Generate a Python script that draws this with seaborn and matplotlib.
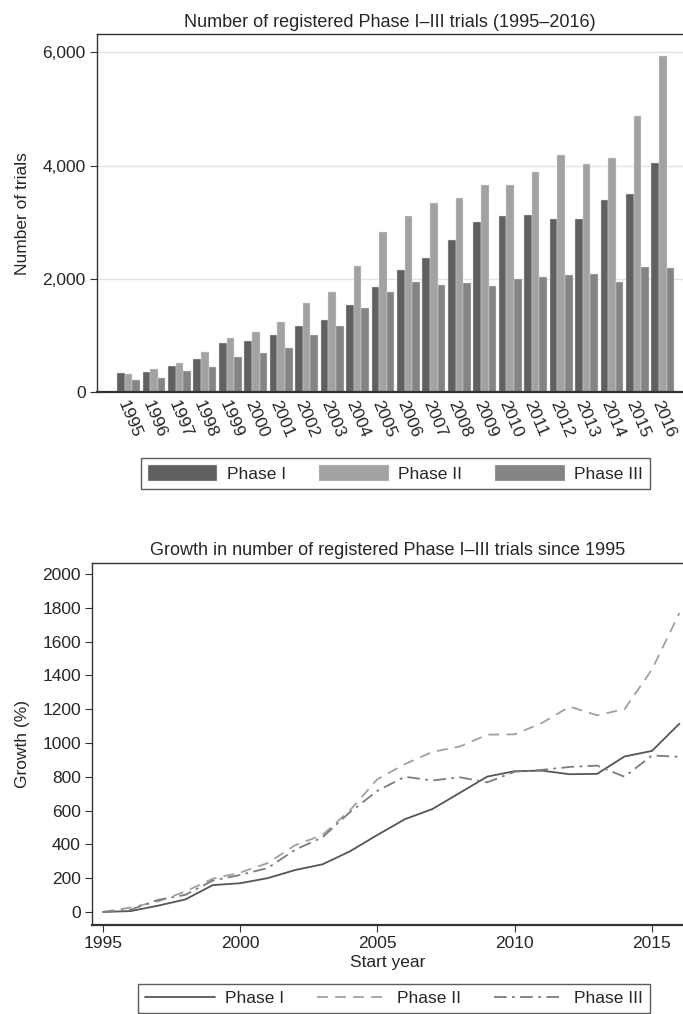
import pandas as pd
import seaborn as sns
import matplotlib.pyplot as plt

# counts
years = list(range(1995, 2017))
phase1 = [333, 350, 456, 580, 864, 899, 1000, 1160, 1272, 1527, 1852, 2160,
          2361, 2680, 3001, 3106, 3118, 3047, 3053, 3398, 3505, 4044]
phase2 = [318, 402, 515, 704, 946, 1059, 1237, 1574, 1769, 2231, 2817, 3101,
          3331, 3430, 3653, 3659, 3878, 4181, 4021, 4133, 4880, 5942]
phase3 = [215, 243, 367, 432, 615, 686, 775, 1006, 1166, 1485, 1757, 1935,
          1887, 1929, 1864, 2000, 2023, 2059, 2077, 1935, 2206, 2188]

# growth (%)
growth1 = [0, 5, 37, 74, 159, 170, 200, 248, 282, 359, 456, 549, 609, 705,
           801, 833, 836, 815, 817, 920, 953, 1114]
growth2 = [0, 26, 62, 121, 197, 233, 289, 395, 456, 602, 786, 875, 947, 979,
           1049, 1051, 1119, 1215, 1164, 1200, 1435, 1769]
growth3 = [0, 13, 71, 101, 186, 219, 260, 368, 442, 591, 717, 800, 778, 797,
           767, 830, 841, 858, 866, 800, 926, 918]

phases = ['Phase I', 'Phase II', 'Phase III']
bar_colors = ['#606060', '#a2a2a2', '#848484']
line_colors = ['#555555', '#a0a0a0', '#7c7c7c']
line_styles = ['-', (0, (6, 4)), (0, (7, 3, 1.5, 3))]

sns.set_style('white')
plt.rcParams['font.family'] = ['Liberation Sans', 'DejaVu Sans']
FS = 12.5

fig = plt.figure(figsize=(6.83, 10.14), dpi=100)

# ---- top: bar chart
ax1 = fig.add_axes([0.142, 0.6137, 0.858, 0.3523])
df = pd.DataFrame({'year': years * 3,
                   'count': phase1 + phase2 + phase3,
                   'phase': [p for p in phases for _ in years]})
sns.barplot(data=df, x='year', y='count', hue='phase', palette=bar_colors,
            width=0.9, saturation=1, edgecolor='#dddddd', linewidth=0.3, ax=ax1)
ax1.set_ylim(0, 6318)
ax1.set_xlim(-1.24, 21.79)
ax1.set_yticks([0, 2000, 4000, 6000])
ax1.set_yticklabels(['0', '2,000', '4,000', '6,000'], fontsize=FS)
ax1.yaxis.grid(True, color='#e3e3e3', linewidth=1)
ax1.set_axisbelow(True)
ax1.tick_params(axis='y', length=5, width=0.8, color='#333333', left=True, pad=3)
ax1.tick_params(axis='x', length=0, pad=5)
ax1.set_xticks(range(len(years)))
ax1.set_xticklabels([str(y) for y in years], rotation=-67, ha='left', va='top',
                    rotation_mode='anchor', fontsize=FS)
ax1.set_xlabel('')
ax1.set_ylabel('Number of trials', fontsize=FS, labelpad=9)
ax1.set_title('Number of registered Phase I\u2013III trials (1995\u20132016)',
              fontsize=13, pad=5.5)
for s in ['left', 'top', 'bottom']:
    ax1.spines[s].set_color('#333333')
    ax1.spines[s].set_linewidth(1.0)
ax1.spines['bottom'].set_linewidth(1.6)
ax1.spines['right'].set_visible(False)
ax1.legend(loc='center', bbox_to_anchor=(0.579, 0.5331), bbox_transform=fig.transFigure,
           ncol=3, frameon=True, fancybox=False, edgecolor='#333333', fontsize=FS,
           handlelength=4.0, handleheight=1.1, columnspacing=1.9, handletextpad=0.55,
           borderpad=0.4).get_frame().set_linewidth(1.0)

# ---- bottom: growth lines
ax2 = fig.add_axes([0.1347, 0.0878, 0.8653, 0.357])
for g, name, c, ls in zip([growth1, growth2, growth3], phases, line_colors, line_styles):
    sns.lineplot(x=years, y=g, color=c, linestyle=ls, linewidth=1.3, label=name, ax=ax2)
ax2.set_xlim(1994.6, 2016.13)
ax2.set_ylim(-77, 2065)
ax2.set_yticks(range(0, 2001, 200))
ax2.set_xticks([1995, 2000, 2005, 2010, 2015])
ax2.tick_params(axis='both', length=5, width=0.8, color='#333333', left=True,
                bottom=True, labelsize=FS, pad=3)
ax2.set_xlabel('Start year', fontsize=FS, labelpad=3)
ax2.set_ylabel('Growth (%)', fontsize=FS, labelpad=9)
ax2.set_title('Growth in number of registered Phase I\u2013III trials since 1995',
              fontsize=13, pad=6)
for s in ['left', 'top', 'bottom']:
    ax2.spines[s].set_color('#333333')
    ax2.spines[s].set_linewidth(1.0)
ax2.spines['bottom'].set_linewidth(1.6)
ax2.spines['right'].set_visible(False)
ax2.legend(loc='center', bbox_to_anchor=(0.577, 0.0150), bbox_transform=fig.transFigure,
           ncol=3, frameon=True, fancybox=False, edgecolor='#333333', fontsize=FS,
           handlelength=4.0, columnspacing=1.9, handletextpad=0.6,
           borderpad=0.4).get_frame().set_linewidth(1.0)

fig.savefig('out.png', dpi=100)
